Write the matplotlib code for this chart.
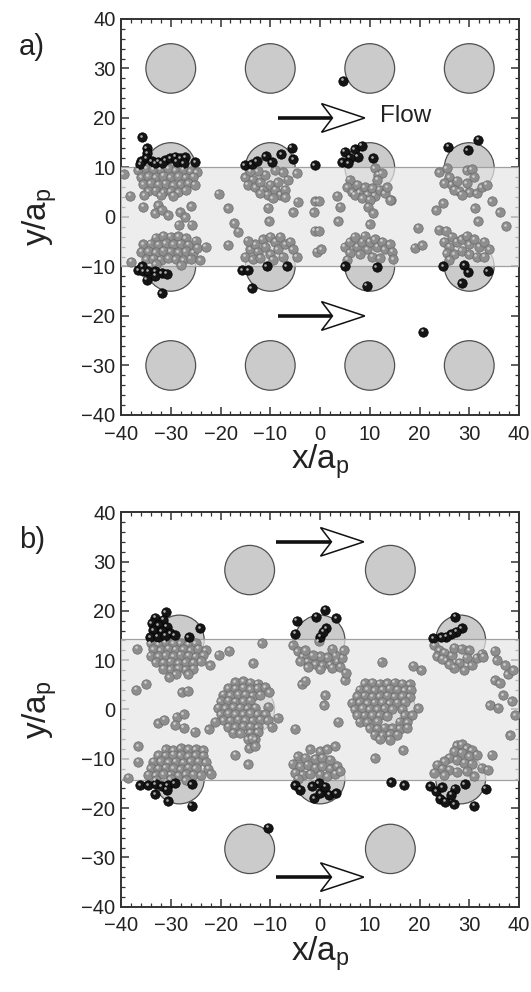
import numpy as np
import matplotlib
matplotlib.use("Agg")
import matplotlib.pyplot as plt
from matplotlib.patches import Circle, Polygon
from matplotlib.transforms import offset_copy
from matplotlib.ticker import MultipleLocator

plt.rcParams['font.family'] = ['Liberation Sans', 'DejaVu Sans']
plt.rcParams['mathtext.default'] = 'regular'

# ---------------- data: panel a ----------------
a_obs_cols = [-30, -10, 10, 30]
a_obs_rows = [30, 10, -10, -30]
a_obs_x = [cx for cy in a_obs_rows for cx in a_obs_cols]
a_obs_y = [cy for cy in a_obs_rows for cx in a_obs_cols]
a_band = 10.0
a_arrows_y = [20, -20]
a_arrow_x = [-8.4, 9.0]

a_gray_c1 = [(-39.5, 8.6), (-36.5, 9.5), (-35, 9.8), (-33.5, 9.7), (-32, 9.6), (-30.5, 9.8), (-29, 9.5), (-27.5, 9.7),
             (-26, 9.3), (-24.8, 9.0), (-36, 8), (-34.5, 8.2), (-33, 8.0), (-31.5, 8.3), (-30, 8.0), (-28.5, 8.2),
             (-27, 7.9), (-25.5, 8.1), (-35.5, 6.6), (-34, 6.8), (-32.5, 6.5), (-31, 6.7), (-29.5, 6.4), (-28, 6.6),
             (-26.5, 6.8), (-25.2, 6.5), (-34.5, 5.2), (-33, 5.3), (-31.5, 5.0), (-30, 5.2), (-28.5, 5.0), (-27, 5.4),
             (-32, 4.4), (-29.5, 4.3)]
a_gray_c2 = [(-33, -4.2), (-31.5, -3.8), (-30, -4.0), (-28.5, -3.9), (-27, -4.3), (-35.5, -5.5), (-34, -5.4),
             (-32.5, -5.6), (-31, -5.3), (-29.5, -5.5), (-28, -5.4), (-26.5, -5.6), (-25, -4.8), (-36, -7),
             (-34.5, -6.9), (-33, -7.1), (-31.5, -6.8), (-30, -7.0), (-28.5, -7.1), (-27, -6.9), (-25.5, -7.2),
             (-35, -8.5), (-33.5, -8.4), (-32, -8.6), (-30.5, -8.3), (-29, -8.5), (-27.5, -8.7), (-26, -8.4),
             (-33, -9.6), (-28, -9.7), (-24.7, -6.2), (-38, -9.0), (-24.1, -8.7), (-23, -6.0)]
a_gray_c3 = [(-15, 8), (-13.5, 7.5), (-14.5, 6.5), (-13, 6), (-12, 7), (-11, 8.5), (-11.5, 5.5), (-10, 6.5),
             (-10.5, 4.5), (-9, 5.5), (-8.5, 7), (-8, 4.5), (-7, 5.5), (-6.5, 7.5), (-7.5, 9), (-9, 9.5),
             (-12.5, 9.2), (-14, 9.3), (-4.7, 8.8), (-12, 4.8), (-9.5, 3.8), (-7, 4)]
a_gray_c4 = [(-15, -8), (-14, -6.5), (-13, -5.5), (-12.5, -7), (-11.5, -4.5), (-11, -6), (-10, -4), (-10, -7.5),
             (-9, -5), (-8.5, -6.5), (-8, -4), (-7, -5.5), (-6, -5), (-5.5, -6.5), (-4.7, -8), (-13.5, -8.5),
             (-12, -8.2), (-9.5, -8.6), (-7.5, -8), (-14.5, -4.8)]
a_gray_c5 = [(11, 9.8), (11.7, 8.5), (12.4, 8.8), (11.5, 7.5), (6, 7.5), (5.5, 6), (6.5, 5), (7.5, 6.5), (8, 5),
             (9, 6), (9.5, 4.5), (10.5, 5.8), (11, 4.3), (12, 5.5), (13, 4.8), (13.5, 6), (14.2, 3.5), (7, 4.5),
             (8.5, 3.8), (10, 3.5)]
a_gray_c6 = [(5, -6), (6, -5), (7, -4), (7.5, -6), (8.5, -5), (9, -3.8), (9.5, -6.5), (10, -5), (11, -4.5),
             (11.5, -6), (12.5, -5), (13, -6.5), (14, -5.5), (14.5, -7), (6, -7.2), (8, -7.5), (10.5, -8),
             (12, -8.3), (14.7, -8.5), (5.5, -8.6)]
a_gray_c7 = [(24, 9), (25.5, 9.8), (26, 8), (25, 6.8), (26.5, 6.5), (27.5, 7.3), (28, 5.2), (29.5, 6.8),
             (29.5, 9.5), (30.5, 9.7), (31, 8), (30, 5), (31.5, 4.8), (32.5, 6), (33.5, 6.5), (27, 5.5), (28.5, 4.5)]
a_gray_c8 = [(25, -5), (26, -6), (26.5, -4), (27.5, -5), (28.5, -4.5), (29.5, -3.8), (30, -5.5), (31, -4.5),
             (32, -6), (33, -5), (34, -6.5), (25.5, -7.3), (27, -7.5), (28.5, -6.8), (30, -7.5), (31.5, -8),
             (33, -8), (26, -8.6)]
a_gray_free = [(-38.2, 4.3), (-35.3, 4.4), (-35.5, 2.1), (-32.5, 2.4), (-33.1, 0.7), (-31.8, 1.4), (-30.5, 0.4),
               (-28.1, 0.9), (-25.9, 2.2), (-27.1, -0.1), (-25.8, -1.6), (-28.4, -1.6), (-20.4, 4.7), (-18.5, 1.8),
               (-17.2, -1.3), (-16.4, -3.0), (-18.4, -5.6), (-10.4, 1.9), (-10.2, -0.9), (-4.5, 3.1), (-5.4, 0.9),
               (-1.3, 0.9), (-1.0, 3.2), (-0.3, 3.2), (-1.1, -2.8), (-0.3, -2.8), (-0.7, -7.0), (0.3, -6.5),
               (3.4, 4.3), (4.0, 2.1), (3.6, -0.8), (9.7, 2.1), (10.7, 0.7), (10.0, -1.5), (14.1, 3.4),
               (19.7, -2.2), (19.0, -6.2), (20.6, -5.7), (23.4, 1.4), (24.8, 2.8), (23.9, -2.6), (25.4, -2.8),
               (31.8, -0.8), (34.5, 3.2), (36.1, 0.9), (37.4, -1.9), (31.1, 1.8)]
a_black = [(-35.8, 16.1), (-34.8, 13.9), (-34.7, 12.9), (-35.0, 11.9), (-35.9, 11.3), (-33.8, 11.3), (-32.5, 11.2),
           (-31.1, 11.5), (-30.1, 11.9), (-29.1, 12.2), (-28.1, 11.9), (-27.1, 12.1), (-25.1, 11.0), (-36.1, 10.6),
           (-33.1, 10.8), (-31.8, 10.8), (-28.8, 11.2), (-27.4, 10.8),
           (-36.6, -10.7), (-35.5, -11.0), (-34.5, -10.9), (-33.1, -11.0), (-31.8, -11.4), (-30.8, -11.5),
           (-34.8, -12.7), (-33.1, -11.9), (-31.8, -15.4), (-35.8, -10.0),
           (-15.1, 10.5), (-13.7, 10.6), (-12.7, 11.3), (-10.9, 12.3), (-9.7, 11.0), (-7.8, 12.7), (-5.7, 14.0),
           (-5.4, 11.7), (-1.1, 10.4),
           (-15.7, -10.7), (-14.4, -10.8), (-10.7, -10.0), (-6.7, -10.0), (-13.7, -14.4),
           (5.0, 13.2), (7.0, 13.7), (8.4, 14.4), (7.6, 12.2), (6.0, 12.0), (4.5, 11.0), (5.7, 10.8), (10.7, 11.9),
           (5.0, -10.0), (11.4, -10.2), (9.4, -13.9),
           (25.8, 14.2), (29.7, 13.5), (31.8, 15.6),
           (24.8, -10.0), (29.0, -9.7), (29.8, -11.2), (33.7, -11.0), (28.5, -13.4),
           (4.7, 27.5), (20.7, -23.2)]

# ---------------- data: panel b ----------------
b_obs_x = [-14.14, 14.14, -28.28, 0, 28.28, -14.14, 14.14, -28.28, 0, 28.28, -14.14, 14.14]
b_obs_y = [28.28, 28.28, 14.14, 14.14, 14.14, 0, 0, -14.14, -14.14, -14.14, -28.28, -28.28]
b_band = 14.3
b_arrows_y = [34, -34]
b_arrow_x = [-8.8, 8.8]

b_gray_c1 = [(-34, 13.5), (-32.5, 13.3), (-31, 13.6), (-29.5, 13.4), (-28, 13.5), (-26.5, 13.2), (-25, 13.4),
             (-33.5, 12.2), (-32, 12.0), (-30.5, 12.3), (-29, 12.1), (-27.5, 12.2), (-26, 12.0), (-24.5, 12.3),
             (-23, 12.0), (-34, 10.9), (-32.5, 10.8), (-31, 11.0), (-29.5, 10.8), (-28, 11.1), (-26.5, 10.9),
             (-25, 10.7), (-23.5, 11.0), (-33, 9.6), (-31.5, 9.5), (-30, 9.7), (-28.5, 9.4), (-27, 9.6),
             (-25.5, 9.5), (-24, 9.8), (-31.5, 8.3), (-30, 8.2), (-28.5, 8.4), (-27, 8.1), (-25.5, 8.3),
             (-29, 7.2), (-26.5, 7.1), (-36.8, 12.3)]
b_gray_c2 = [(-17, 5.5), (-15.5, 5.7), (-14, 5.4), (-12.5, 5.2), (-18.5, 4.3), (-17, 4.2), (-15.5, 4.4), (-14, 4.1),
             (-12.5, 4.3), (-11, 4.5), (-19.5, 3.0), (-18, 2.9), (-16.5, 3.1), (-15, 3.0), (-13.5, 2.8), (-12, 3.0),
             (-10.2, 3.5), (-20, 1.7), (-18.5, 1.8), (-17, 1.6), (-15.5, 1.7), (-14, 1.8), (-20.5, 0.4), (-19, 0.3),
             (-17.5, 0.5), (-16, 0.4), (-14.5, 0.2), (-13, 0.4), (-10.4, 0.6), (-20, -0.9), (-18.5, -0.8),
             (-17, -1.0), (-15.5, -0.9), (-14, -0.8), (-12.5, -1.0), (-11, -0.9), (-19.5, -2.2), (-18, -2.3),
             (-16.5, -2.1), (-15, -2.2), (-13.5, -2.3), (-12, -2.1), (-10.5, -2.2), (-8.5, -1.7), (-18.5, -3.5),
             (-17, -3.6), (-15.5, -3.4), (-14, -3.5), (-12.5, -3.6), (-9.7, -3.5), (-17.5, -4.7), (-16, -4.8),
             (-14, -4.7), (-12.5, -4.6), (-14.5, -6.0), (-13.0, -6.0), (-13.7, -5.8), (-14.2, -7.9), (-13, -7.5)]
b_gray_c3 = [(-31, -8), (-29.5, -8.2), (-28, -7.9), (-26.5, -8.1), (-25, -8.0), (-23.5, -8.3), (-32.5, -9.3),
             (-31, -9.4), (-29.5, -9.2), (-28, -9.3), (-26.5, -9.5), (-25, -9.3), (-23.5, -9.4), (-33.5, -10.6),
             (-32, -10.5), (-30.5, -10.7), (-29, -10.6), (-27.5, -10.8), (-26, -10.5), (-24.5, -10.6), (-23, -10.7),
             (-34, -11.9), (-32.5, -12.0), (-31, -11.8), (-29.5, -11.9), (-28, -12.1), (-26.5, -11.8), (-25, -11.9),
             (-22.5, -12.0), (-34.5, -13.2), (-33, -13.3), (-31.5, -13.1), (-30, -13.2), (-28.5, -13.4),
             (-27, -13.1), (-25.5, -13.2), (-24, -13.3), (-22, -13.0), (-33, -14.3), (-30, -14.2), (-27, -14.3)]
b_gray_c4 = [(-5.5, 13), (-4.5, 11.8), (-3.5, 10.8), (-2.5, 9.7), (-1, 9.2), (0.5, 9.0), (2, 9.2), (3.5, 9.8),
             (4.5, 10.5), (4.8, 12), (3, 11), (1.5, 10.6), (0, 10.8), (-1.5, 11), (-3, 12), (-4, 9.8),
             (-2.5, 8.6), (0, 8.2), (2.5, 8.5), (4, 8.7), (2.5, 12.3), (-0.3, 13.8)]
b_gray_c5 = [(9, 5.3), (10.5, 5.4), (12, 5.2), (13.5, 5.3), (15, 5.4), (16.5, 5.2), (18, 5.1), (8, 4.0),
             (9.5, 4.1), (11, 3.9), (12.5, 4.0), (14, 4.2), (15.5, 4.0), (17, 3.9), (18.2, 4.0), (7.5, 2.7),
             (9, 2.8), (10.5, 2.6), (12, 2.7), (13.5, 2.8), (15, 2.6), (16.5, 2.7), (18, 2.6), (6.5, 1.4),
             (8, 1.5), (9.5, 1.3), (11, 1.4), (12.5, 1.5), (14, 1.3), (15.5, 1.4), (17, 1.5), (7, 0.1), (8.5, 0.2),
             (10, 0.0), (11.5, 0.1), (13, 0.2), (14.5, 0.0), (16.5, 0.1), (19.7, 0.2), (7.5, -1.2), (9, -1.3),
             (10.5, -1.1), (12, -1.2), (13.5, -1.3), (17, -1.2), (18.5, -1.1), (8, -2.5), (9.5, -2.6),
             (11.5, -2.4), (16, -2.5), (17.5, -2.6), (10, -3.8), (11.5, -3.9), (13, -3.7), (14.5, -3.8),
             (16, -3.9), (17.5, -3.7), (11, -5.1), (12.5, -5.2), (14, -5.0), (15.5, -5.1), (12, -6.0), (14, -6.1)]
b_gray_c6 = [(-2, -8), (0, -8.5), (1.5, -8), (3, -7.5), (-4.5, -9.5), (-3, -9.8), (-1, -10), (0.5, -9.8),
             (2, -10.2), (-5.5, -11), (-4, -11.5), (-2.5, -11.2), (-1, -11.8), (0.5, -11.5), (2, -12), (3.5, -11.5),
             (-5, -12.8), (-3.5, -13.2), (-2, -13), (0, -13.2), (1.5, -13.5), (3, -13), (4, -12.5), (-4.5, -14)]
b_gray_c7 = [(23, 13), (24, 12), (23.5, 10.8), (25, 11.5), (25.5, 10), (26.5, 11), (27, 12.5), (28.5, 12.3),
             (30, 12.0), (29.5, 10.5), (28, 9.5), (27, 8.5), (30.5, 9), (31.5, 10.5), (32.5, 11.3), (26, 9.2),
             (29, 8), (24.5, 10.3)]
b_gray_c8 = [(27.5, -7.3), (28.5, -7), (29.5, -7.8), (30.5, -8.3), (27, -8.5), (28.5, -8.8), (30, -9.5),
             (31.5, -9.2), (26, -9.8), (25, -10.5), (27.5, -10.2), (29, -10.8), (30.5, -11), (23.5, -11.2),
             (24.5, -12), (26, -12.2), (23, -12.8), (25, -13.3), (27.5, -12.6), (29.5, -12.5), (31, -13.5),
             (32.5, -11.8), (34.5, -9.2), (33.7, -12.2)]
b_gray_free = [(-37.0, 4.0), (-34.9, 5.2), (-27.8, 3.5), (-26.6, 3.8), (-30.3, 6.5), (-32.5, -2.8), (-31.3, -2.1),
               (-28.8, -1.5), (-27.4, -1.0), (-29.1, -3.1), (-27.4, -3.7), (-25.2, -4.5), (-22.4, -4.0),
               (-21.1, -2.5), (-17.1, -9.2), (-14.4, -11.1), (-5.0, -3.9), (-36.5, -7.5), (-36.5, -10.6),
               (-38.5, -13.8), (-3.7, 5.1), (-3.0, 5.8), (-20.4, 11.1), (-18.2, 11.9), (-22.1, 9.0),
               (-11.7, 13.4), (-13.4, 9.4), (12.4, 9.7), (18.7, 8.9), (20.4, 8.0), (1.0, 2.9), (0.9, 0.9),
               (3.6, -2.5), (5.0, 6.0), (5.2, 7.5), (11.0, -9.9), (16.7, -8.2), (32.8, 10.7), (35.1, 11.9),
               (35.5, 10.0), (37.2, 9.0), (37.7, 7.1), (38.8, 8.0), (35.1, 6.0), (36.1, 5.3), (36.8, 2.9),
               (38.5, 1.7), (34.1, 0.9), (35.8, 0.4), (39.2, -1.1), (38.2, -5.2)]
b_black = [(-31.0, 19.7), (-33.1, 18.6), (-31.5, 18.2), (-33.8, 17.5), (-32.5, 17.1), (-30.8, 16.8),
           (-33.5, 16.1), (-31.8, 15.9), (-30.1, 15.5), (-34.1, 14.6), (-32.6, 14.8), (-31.1, 15.0),
           (-29.2, 15.1), (-24.1, 16.5), (-26.4, 14.6),
           (-36.1, -15.3), (-34.5, -15.4), (-33.0, -15.2), (-31.8, -15.6), (-30.6, -15.3), (-29.2, -15.0),
           (-33.1, -17.2), (-30.8, -16.3), (-30.5, -18.6), (-25.8, -19.5), (-25.8, -15.2),
           (-4.7, 18.0), (-5.0, 15.4), (-0.8, 18.8), (1.0, 20.2), (3.3, 18.5), (0.0, 14.8), (1.3, 16.5), (0.7, 15.8),
           (-5.0, -15.3), (-4.0, -16.3), (-1.2, -18.0), (0.0, -17.0), (1.0, -15.7), (1.9, -17.3), (3.3, -17.0),
           (-0.3, -15.0), (-1.6, -15.6),
           (27.2, 18.8), (28.5, 16.5), (27.4, 15.8), (26.4, 15.3), (25.4, 14.8), (24.4, 14.6), (22.8, 14.4),
           (22.1, -15.5), (23.4, -16.6), (24.1, -18.1), (25.2, -18.7), (27.0, -19.2), (27.1, -16.1), (29.1, -15.1),
           (31.0, -19.5), (33.3, -16.1), (24.6, -15.8), (26.4, -17.3),
           (14.3, -14.8), (16.9, -15.4), (-10.4, -24.0)]

a_gray = np.array(a_gray_c1 + a_gray_c2 + a_gray_c3 + a_gray_c4 + a_gray_c5 + a_gray_c6 + a_gray_c7 + a_gray_c8
                  + a_gray_free)
a_blk = np.array(a_black)
b_gray = np.array(b_gray_c1 + b_gray_c2 + b_gray_c3 + b_gray_c4 + b_gray_c5 + b_gray_c6 + b_gray_c7 + b_gray_c8
                  + b_gray_free)
b_blk = np.array(b_black)

ticks = [-40, -30, -20, -10, 0, 10, 20, 30, 40]

# ---------------- drawing ----------------
fig = plt.figure(figsize=(5.31, 9.92), dpi=100)
ax_a = fig.add_axes([0.2279, 0.5817, 0.7495, 0.3992])
ax_b = fig.add_axes([0.2279, 0.0860, 0.7495, 0.3976])


def draw_arrow(ax, x0, x1, y):
    hl = 8.7
    hh = 2.9
    notch = 2.2
    xb = x1 - hl
    ax.plot([x0, xb + notch], [y, y], color='#111111', lw=2.6, solid_capstyle='butt', zorder=6)
    head = Polygon([(x1, y), (xb, y + hh), (xb + notch, y), (xb, y - hh)], closed=True,
                   facecolor='white', edgecolor='#111111', lw=1.1, joinstyle='miter', zorder=6)
    ax.add_patch(head)


def particles(ax, pts, face, edge, hl_col):
    ax.scatter(pts[:, 0], pts[:, 1], s=46, c=face, edgecolors=edge, linewidths=0.5, zorder=5)
    tr = offset_copy(ax.transData, fig=fig, x=-1.0, y=1.0, units='points')
    ax.scatter(pts[:, 0], pts[:, 1], s=3.5, c=hl_col, linewidths=0, transform=tr, zorder=5.5)


def panel(ax, obs_x, obs_y, band, gray, blk, arrows_y, arrow_x):
    for cx, cy in zip(obs_x, obs_y):
        ax.add_patch(Circle((cx, cy), 5.0, facecolor='#cbcbcb', edgecolor='#505050', lw=0.9, zorder=2))
    ax.axhspan(-band, band, facecolor='#e6e6e6', alpha=0.72, edgecolor='none', zorder=3)
    ax.axhline(band, color='#a0a0a0', lw=0.9, zorder=3.5)
    ax.axhline(-band, color='#a0a0a0', lw=0.9, zorder=3.5)
    particles(ax, gray, '#8e8e8e', '#6a6a6a', '#d0d0d0')
    particles(ax, blk, '#151515', '#000000', '#b0b0b0')
    for ay in arrows_y:
        draw_arrow(ax, arrow_x[0], arrow_x[1], ay)
    ax.set_xlim(-40, 40)
    ax.set_ylim(-40, 40)
    ax.set_xticks(ticks)
    ax.set_yticks(ticks)
    ax.xaxis.set_minor_locator(MultipleLocator(2))
    ax.yaxis.set_minor_locator(MultipleLocator(2))
    ax.tick_params(which='both', direction='in', top=True, right=True, colors='#333333',
                   labelcolor='#222222', labelsize=14.5)
    ax.tick_params(which='major', length=6, width=1.1)
    ax.tick_params(axis='x', which='major', pad=7)
    ax.tick_params(axis='y', which='major', pad=4)
    ax.tick_params(which='minor', length=3, width=0.9)
    for s in ax.spines.values():
        s.set_linewidth(1.4)
        s.set_color('#333333')
    ax.set_xlabel('x/a$_p$', fontsize=24, labelpad=-1, color='#222222')
    ax.set_ylabel('y/a$_p$', fontsize=24, labelpad=16, color='#222222')


panel(ax_a, a_obs_x, a_obs_y, a_band, a_gray, a_blk, a_arrows_y, a_arrow_x)
panel(ax_b, b_obs_x, b_obs_y, b_band, b_gray, b_blk, b_arrows_y, b_arrow_x)

ax_a.text(12.0, 20.3, 'Flow', fontsize=17.5, va='center', ha='left', color='#222222', zorder=7)

fig.text(0.035, 1 - 47 / 992, 'a)', fontsize=21, va='center', ha='left', color='#222222')
fig.text(0.035, 1 - 540 / 992, 'b)', fontsize=21, va='center', ha='left', color='#222222')

fig.savefig('out.png', dpi=100)
